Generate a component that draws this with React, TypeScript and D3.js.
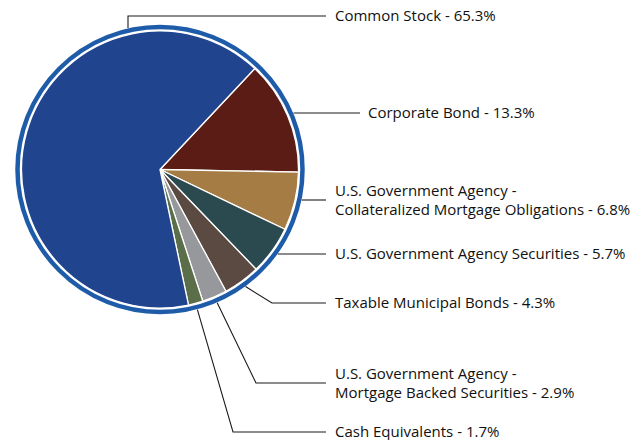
import React from 'react';
import * as d3 from 'd3';

// slice order runs clockwise starting from the top-right edge of Corporate Bond
const categories = [
  'Corporate Bond',
  'U.S. Government Agency - Collateralized Mortgage Obligations',
  'U.S. Government Agency Securities',
  'Taxable Municipal Bonds',
  'U.S. Government Agency - Mortgage Backed Securities',
  'Cash Equivalents',
  'Common Stock',
];
const values = [13.3, 6.8, 5.7, 4.3, 2.9, 1.7, 65.3];
const colors = ['#5a1c14', '#a67c45', '#2a4a50', '#5b4a42', '#96989c', '#5a6e4a', '#21448e'];

// label text lines per category
const labelLines = [
  ['Corporate Bond - 13.3%'],
  ['U.S. Government Agency -', 'Collateralized Mortgage Obligations - 6.8%'],
  ['U.S. Government Agency Securities - 5.7%'],
  ['Taxable Municipal Bonds - 4.3%'],
  ['U.S. Government Agency -', 'Mortgage Backed Securities - 2.9%'],
  ['Cash Equivalents - 1.7%'],
  ['Common Stock - 65.3%'],
];

const W = 641;
const H = 440;
const cx = 160;
const cy = 169.5;
const rPie = 138.5;
const rRing = 142.5;
const rAnchor = 145;
const lineEnd = 326;
const textX = 335;
const startDeg = 43.2;

const App: React.FC = () => {
  const pie = d3.pie<number>()
    .sort(null)
    .value(d => d)
    .startAngle((startDeg * Math.PI) / 180)
    .endAngle((startDeg * Math.PI) / 180 + 2 * Math.PI);
  const arcs = pie(values);
  const arc = d3.arc<d3.PieArcDatum<number>>().innerRadius(0).outerRadius(rPie);

  // label rows (y of the leader line) and elbow x for lower labels
  const labelY = [113, 200, 254, 303, 383, 432, 16];
  const elbowX: (number | null)[] = [null, null, null, 272, 256, 233, null];

  const leaders = arcs.map((a, i) => {
    const mid = (a.startAngle + a.endAngle) / 2;
    const y = labelY[i];
    if (categories[i] === 'Common Stock') {
      // vertical drop onto the top of the ring
      const x0 = 128;
      const yTop = cy - Math.sqrt(rAnchor * rAnchor - (x0 - cx) * (x0 - cx));
      return `M${x0},${yTop}L${x0},${y}L${lineEnd},${y}`;
    }
    const ax = cx + rAnchor * Math.sin(mid);
    const ay = cy - rAnchor * Math.cos(mid);
    const end = categories[i] === 'Corporate Bond' ? 360 : lineEnd;
    if (elbowX[i] == null) {
      const hx = cx + Math.sqrt(Math.max(0, rAnchor * rAnchor - (y - cy) * (y - cy)));
      return `M${hx},${y}L${end},${y}`;
    }
    return `M${ax},${ay}L${elbowX[i]},${y}L${end},${y}`;
  });

  return (
    <svg width={W} height={H} style={{ position: 'absolute', left: 0, top: 0 }}>
      <rect width={W} height={H} fill="#fff" />
      <circle cx={cx} cy={cy} r={rRing} fill="none" stroke="#1e5ba8" strokeWidth={4.5} />
      <g transform={`translate(${cx},${cy})`}>
        {arcs.map((a, i) => (
          <path key={i} d={arc(a) || ''} fill={colors[i]} stroke="#fff" strokeWidth={1.3} strokeLinejoin="round" />
        ))}
      </g>
      {leaders.map((d, i) => (
        <path key={i} d={d} fill="none" stroke="#1a1a1a" strokeWidth={1.1} />
      ))}
      {labelLines.map((lines, i) => {
        const tx = categories[i] === 'Corporate Bond' ? 368 : textX;
        const y0 = labelY[i] - ((lines.length - 1) * 19) / 2;
        return (
          <text key={i} x={tx} fontFamily="'Open Sans', sans-serif" fontSize={15} fill="#111">
            {lines.map((t, j) => (
              <tspan key={j} x={tx} y={y0 + j * 19} dy="0.35em">{t}</tspan>
            ))}
          </text>
        );
      })}
    </svg>
  );
};

export default App;
